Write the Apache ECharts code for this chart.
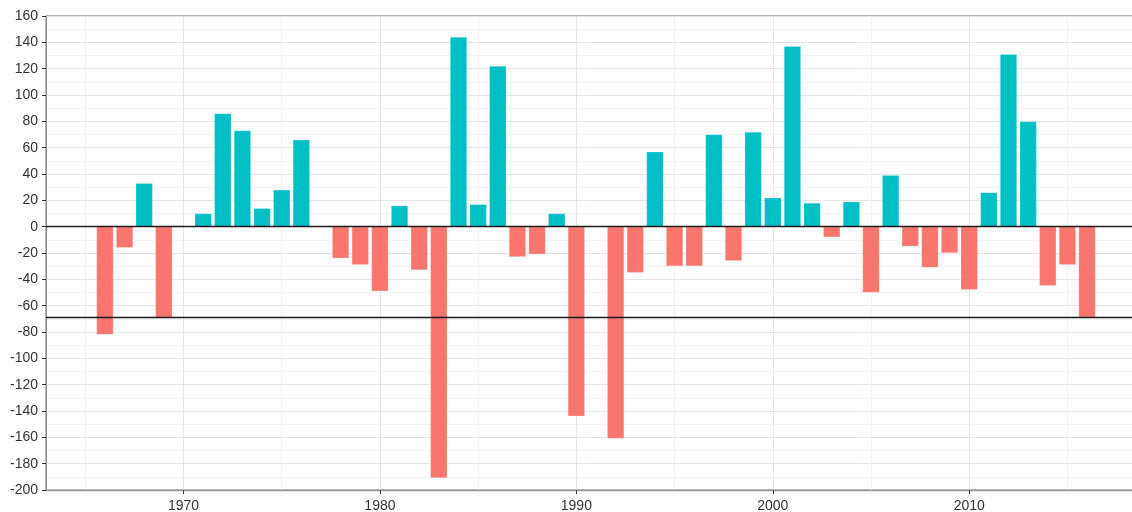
<!DOCTYPE html>
<html>
<head>
    <meta charset="utf-8">
    <script src="https://cdn.jsdelivr.net/npm/echarts@6/dist/echarts.min.js"></script>
    <style>
        html, body { margin: 0; padding: 0; background: #fff; }
    </style>
</head>
<body>
<div id="main" style="width: 1132px;height:512px;"></div>
<script type="text/javascript">
    // years and yearly anomaly values
    var years = [
        1966, 1967, 1968, 1969, 1971, 1972, 1973, 1974, 1975, 1976,
        1978, 1979, 1980, 1981, 1982, 1983, 1984, 1985, 1986, 1987,
        1988, 1989, 1990, 1992, 1993, 1994, 1995, 1996, 1997, 1998,
        1999, 2000, 2001, 2002, 2003, 2004, 2005, 2006, 2007, 2008,
        2009, 2010, 2011, 2012, 2013, 2014, 2015, 2016
    ];
    var values = [
        -82, -16, 33, -69, 10, 86, 73, 14, 28, 66,
        -24, -29, -49, 16, -33, -191, 144, 17, 122, -23,
        -21, 10, -144, -161, -35, 57, -30, -30, 70, -26,
        72, 22, 137, 18, -8, 19, -50, 39, -15, -31,
        -20, -48, 26, 131, 80, -45, -29, -69
    ];
    var refLines = [0, -69];
    var majorYears = [1970, 1980, 1990, 2000, 2010];
    var minorYears = [1965, 1975, 1985, 1995, 2005, 2015];

    var posColor = '#00BFC4';
    var negColor = '#F8766D';

    var barData = [];
    for (let i = 0; i < years.length; i++) {
        barData.push([years[i], values[i]]);
    }

    var myChart = echarts.init(document.getElementById('main'));
    var option = {
        backgroundColor: '#ffffff',
        animation: false,
        grid: {
            left: 46,
            width: 1100,   // panel runs past the right edge of the picture
            top: 16,
            bottom: 22,
            outerBoundsMode: 'none',
            show: true,
            borderColor: '#6e6e6e',
            borderWidth: 1,
            backgroundColor: 'transparent'
        },
        xAxis: [
            {
                type: 'value',
                min: 1963,
                max: 2019,
                axisLine: {show: true, onZero: false, lineStyle: {color: '#999', width: 1.3}},
                axisTick: {show: true, length: 4, customValues: majorYears, lineStyle: {color: '#333'}},
                axisLabel: {
                    customValues: majorYears,
                    formatter: function (v) { return String(v); },
                    color: '#333',
                    fontSize: 14,
                    fontFamily: 'Liberation Sans, Arial, sans-serif',
                    margin: 9
                },
                splitLine: {show: true, lineStyle: {color: '#e6e6e6', width: 1}}
            },
            {
                type: 'value',
                min: 1963,
                max: 2019,
                position: 'bottom',
                axisLine: {show: false, onZero: false},
                axisTick: {show: false, customValues: minorYears},
                axisLabel: {show: false, customValues: minorYears},
                splitLine: {show: true, lineStyle: {color: '#f4f4f4', width: 1}}
            }
        ],
        yAxis: {
            type: 'value',
            min: -200,
            max: 160,
            interval: 20,
            axisLine: {show: true, onZero: false, lineStyle: {color: '#8c8c8c', width: 1}},
            axisTick: {show: true, length: 4, lineStyle: {color: '#333'}},
            axisLabel: {
                color: '#333',
                fontSize: 14,
                fontFamily: 'Liberation Sans, Arial, sans-serif',
                margin: 8
            },
            splitLine: {show: true, lineStyle: {color: '#e6e6e6', width: 1}},
            minorTick: {show: false, splitNumber: 2},
            minorSplitLine: {show: true, lineStyle: {color: '#f4f4f4', width: 1}}
        },
        series: [
            {
                type: 'bar',
                xAxisIndex: 0,
                data: barData,
                barWidth: 17,
                itemStyle: {
                    color: function (p) {
                        return p.value[1] >= 0 ? posColor : negColor;
                    },
                    borderColor: 'rgba(255,255,255,0.35)',
                    borderWidth: 0.6
                },
                markLine: {
                    silent: true,
                    symbol: 'none',
                    label: {show: false},
                    lineStyle: {color: '#1a1a1a', width: 1.3, type: 'solid'},
                    data: refLines.map(function (v) { return {yAxis: v}; })
                }
            }
        ]
    };
    myChart.setOption(option);
</script>
</body>
</html>
